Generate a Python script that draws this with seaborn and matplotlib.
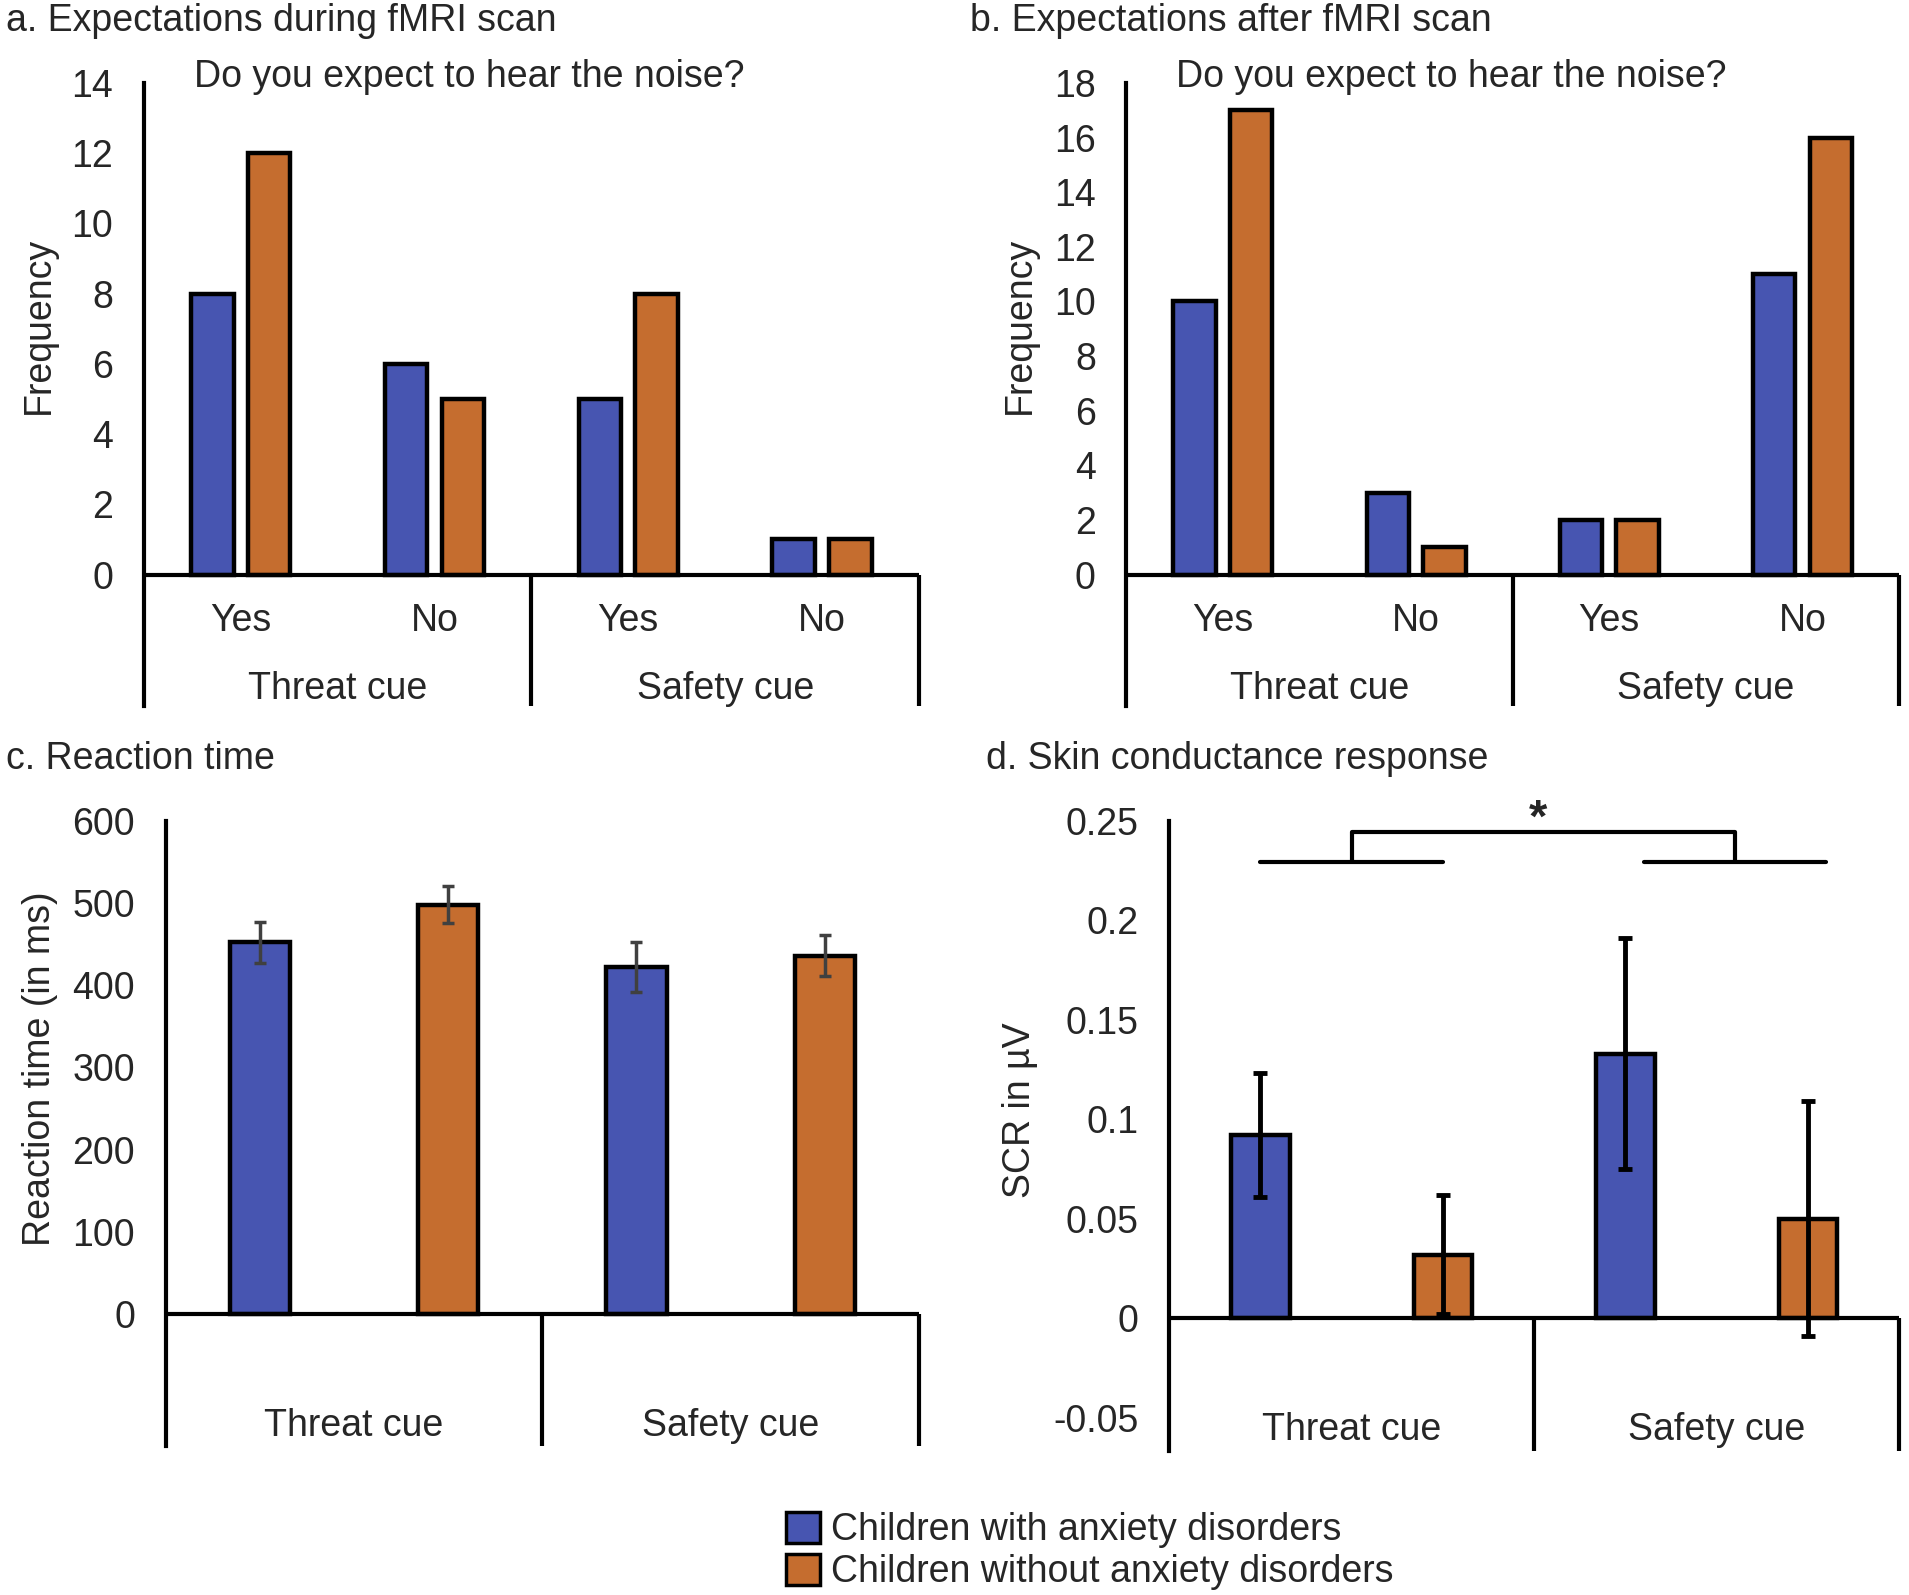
import matplotlib
matplotlib.use('Agg')
import matplotlib.pyplot as plt
from matplotlib.patches import Patch
import pandas as pd
import seaborn as sns

# groups and colours
groups = ['Children with anxiety disorders', 'Children without anxiety disorders']
colors = ['#4755B1', '#C56D2F']
cues = ['Threat cue', 'Safety cue']
answers = ['Yes', 'No', 'Yes', 'No']
slots = ['Threat-Yes', 'Threat-No', 'Safety-Yes', 'Safety-No']

# a. expectations during fMRI scan (frequency)
during_anx = [8, 6, 5, 1]
during_ctrl = [12, 5, 8, 1]
# b. expectations after fMRI scan (frequency)
after_anx = [10, 3, 2, 11]
after_ctrl = [17, 1, 2, 16]

# c. reaction time (ms) order: anx threat, ctrl threat, anx safety, ctrl safety
rt_slots = ['Threat-anx', 'Threat-ctrl', 'Safety-anx', 'Safety-ctrl']
rt_group = [groups[0], groups[1], groups[0], groups[1]]
rt_mean = [452, 498, 422, 436]
rt_err = [25, 22, 30, 25]
# d. skin conductance response (µV)
scr_mean = [0.092, 0.032, 0.133, 0.050]
scr_err = [0.031, 0.030, 0.058, 0.059]

sns.set_style('white')
plt.rcParams['font.family'] = ['Liberation Sans', 'DejaVu Sans']
FS = 27
LW = 3
BAR_LW = 3.2


def frame(ax, ylo, yhi, ticks, labels):
    ax.set_xlim(-0.5, 3.5)
    ax.set_ylim(ylo, yhi)
    ax.set_yticks(ticks)
    ax.set_yticklabels(labels)
    ax.tick_params(axis='y', length=0, pad=22, labelsize=FS)
    ax.set_xticks([])
    ax.set_xlabel('')
    for s in ['top', 'right', 'bottom']:
        ax.spines[s].set_visible(False)
    ax.spines['left'].set_linewidth(LW)
    ax.spines['left'].set_color('black')
    ax.axhline(0, color='black', lw=LW, zorder=5)
    ax.vlines([1.5, 3.5], ylo, 0, color='black', lw=LW, clip_on=False, zorder=5)


def freq_panel(ax, anx, ctrl, yhi, ylo):
    df = pd.DataFrame({'slot': slots * 2,
                       'group': [groups[0]] * 4 + [groups[1]] * 4,
                       'value': anx + ctrl})
    sns.barplot(data=df, x='slot', y='value', hue='group', order=slots,
                hue_order=groups, palette=colors, saturation=1, width=0.585, gap=0.25,
                edgecolor='black', linewidth=BAR_LW, errorbar=None,
                legend=False, ax=ax)
    frame(ax, ylo, yhi, range(0, yhi + 1, 2), [str(t) for t in range(0, yhi + 1, 2)])
    tr = ax.get_xaxis_transform()
    for i, a in enumerate(answers):
        ax.text(i, 0.136, a, transform=tr, ha='center', va='center', fontsize=FS)
    for i, c in enumerate(cues):
        ax.text(0.5 + 2 * i, 0.028, c, transform=tr, ha='center', va='center', fontsize=FS)
    ax.text(0.42, 1.01, 'Do you expect to hear the noise?', transform=ax.transAxes,
            ha='center', va='center', fontsize=FS)
    ax.set_ylabel('Frequency', fontsize=FS)


def mean_panel(ax, means, errs, ecolor, elw, cap):
    df = pd.DataFrame({'slot': rt_slots, 'group': rt_group, 'value': means})
    sns.barplot(data=df, x='slot', y='value', hue='group', order=rt_slots,
                hue_order=groups, palette=colors, saturation=1, dodge=False, width=0.32,
                edgecolor='black', linewidth=BAR_LW, errorbar=None,
                legend=False, ax=ax)
    ax.errorbar(range(len(means)), means, yerr=errs, fmt='none', ecolor=ecolor,
                elinewidth=elw, capsize=cap, capthick=elw, zorder=6)


fig = plt.figure(figsize=(19.09, 15.95), dpi=100)
ax_a = fig.add_axes([0.0753, 0.5574, 0.4061, 0.3906])
ax_b = fig.add_axes([0.590, 0.5574, 0.4048, 0.3906])
ax_c = fig.add_axes([0.0867, 0.0934, 0.3947, 0.3921])
ax_d = fig.add_axes([0.6124, 0.0903, 0.3824, 0.3952])

freq_panel(ax_a, during_anx, during_ctrl, 14, -3.74)
ax_a.yaxis.set_label_coords(-0.112, 0.61)
freq_panel(ax_b, after_anx, after_ctrl, 18, -4.81)
ax_b.yaxis.set_label_coords(-0.115, 0.61)

# c. reaction time
mean_panel(ax_c, rt_mean, rt_err, '#404040', 2.5, 4)
frame(ax_c, -160, 600, range(0, 601, 100), [str(t) for t in range(0, 601, 100)])
ax_c.set_ylabel('Reaction time (in ms)', fontsize=FS)
ax_c.yaxis.set_label_coords(-0.143, 0.603)
tr = ax_c.get_xaxis_transform()
for i, c in enumerate(cues):
    ax_c.text(0.5 + 2 * i, 0.032, c, transform=tr, ha='center', va='center', fontsize=FS)

# d. skin conductance response
mean_panel(ax_d, scr_mean, scr_err, 'black', 3.5, 5)
d_ticks = [-0.05, 0, 0.05, 0.1, 0.15, 0.2, 0.25]
frame(ax_d, -0.0666, 0.25, d_ticks, ['-0.05', '0', '0.05', '0.1', '0.15', '0.2', '0.25'])
ax_d.set_ylabel('SCR in µV', fontsize=FS)
ax_d.yaxis.set_label_coords(-0.18, 0.54)
tr = ax_d.get_xaxis_transform()
for i, c in enumerate(cues):
    ax_d.text(0.5 + 2 * i, 0.034, c, transform=tr, ha='center', va='center', fontsize=FS)
# significance bracket
ax_d.plot([0, 1], [0.229, 0.229], color='black', lw=LW, clip_on=False)
ax_d.plot([2.1, 3.1], [0.229, 0.229], color='black', lw=LW, clip_on=False)
ax_d.plot([0.5, 0.5, 2.6, 2.6], [0.229, 0.2445, 0.2445, 0.229], color='black',
          lw=LW, clip_on=False)
ax_d.text(1.52, 0.2505, '*', ha='center', va='center', fontsize=34, fontweight='bold')

# panel titles
fig.text(0.003, 1 - 31 / 1595, 'a. Expectations during fMRI scan', ha='left', va='baseline', fontsize=FS)
fig.text(970 / 1909, 1 - 31 / 1595, 'b. Expectations after fMRI scan', ha='left', va='baseline', fontsize=FS)
fig.text(0.003, 1 - 769 / 1595, 'c. Reaction time', ha='left', va='baseline', fontsize=FS)
fig.text(986 / 1909, 1 - 769 / 1595, 'd. Skin conductance response', ha='left', va='baseline', fontsize=FS)

handles = [Patch(facecolor=c, edgecolor='black', linewidth=2.5) for c in colors]
fig.legend(handles=handles, labels=groups, loc='center', bbox_to_anchor=(0.571, 0.0276),
           frameon=False, fontsize=FS, handlelength=0.9, handleheight=0.9,
           handletextpad=0.3, labelspacing=0.15)

fig.savefig('out.png', dpi=100)
